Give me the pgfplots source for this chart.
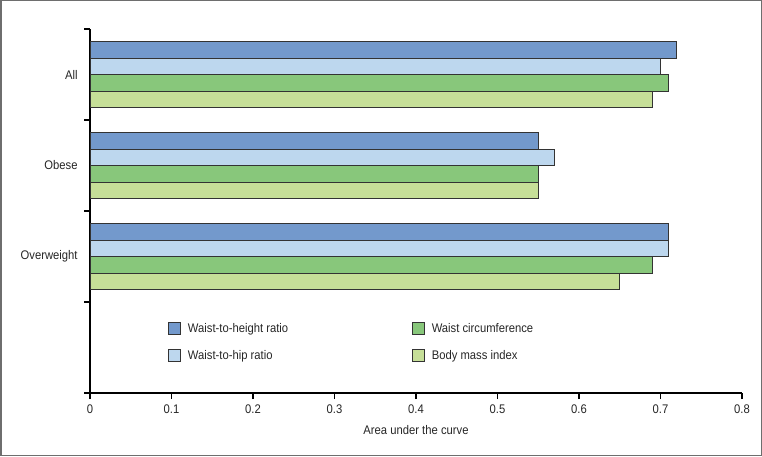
\documentclass[border=0pt]{standalone}
\usepackage{pgfplots}
\pgfplotsset{compat=1.18}
\usepackage{fontspec}
\setmainfont{Liberation Sans}[FakeStretch=0.9]
\definecolor{cWHtR}{HTML}{7399CC}
\definecolor{cWHR}{HTML}{BDD7EE}
\definecolor{cWC}{HTML}{88C77B}
\definecolor{cBMI}{HTML}{C6DF98}
\definecolor{edge}{HTML}{333333}
\definecolor{frame}{HTML}{6E6E6E}
\begin{document}
\fontsize{12.5}{15}\selectfont
\begin{tikzpicture}
\useasboundingbox (0pt,0pt) rectangle (762pt,456pt);
\draw[frame, line width=1.5pt] (0.75pt,0.75pt) rectangle (761.25pt,455.25pt);
\begin{axis}[
  at={(90pt,63pt)}, anchor=south west,
  scale only axis, width=652pt, height=364pt,
  xmin=0, xmax=0.8, ymin=-0.5, ymax=3.5,
  xbar, bar width=0.1813,
  axis lines=left,
  axis line style={-, line width=1.2pt},
  every tick/.style={black, line width=1.2pt},
  tick align=outside,
  major tick length=6pt,
  xtick={0,0.1,0.2,0.3,0.4,0.5,0.6,0.7,0.8},
  xticklabels={0,0.1,0.2,0.3,0.4,0.5,0.6,0.7,0.8},
  ytick={-0.5,0.5,1.5,2.5,3.5},
  yticklabels={},
  extra y ticks={1,2,3},
  extra y tick labels={Overweight,Obese,All},
  extra y tick style={major tick length=0pt, yticklabel style={xshift=-8pt}},
  /pgf/number format/assume math mode=true,
  tick label style={font=\fontsize{12.5}{15}\selectfont, text=black!85},
  xticklabel style={yshift=-1pt},
  xlabel={Area under the curve},
  xlabel style={font=\fontsize{12.5}{15}\selectfont, text=black!85, yshift=-4pt},
  legend image code/.code={\draw[#1, line width=0.8pt, draw=edge] (0pt,-6pt) rectangle (12pt,6pt);},
  legend columns=2, transpose legend,
  legend style={draw=none, fill=none, at={(0.1196,0.198)}, anchor=north west,
    inner sep=0pt, font=\fontsize{12.5}{15}\selectfont,
    row sep=12pt,
    nodes={text=black!85, inner xsep=7pt},
    /tikz/every odd column/.append style={column sep=0pt},
    /tikz/every even column/.append style={column sep=0pt}},
  legend cell align=left,
]
\addplot[fill=cWHtR, draw=edge, line width=0.8pt, bar shift=0.27195] coordinates {(0.72,3) (0.55,2) (0.71,1)};
\addlegendentry{\makebox[217pt][l]{Waist-to-height ratio}}
\addplot[fill=cWHR, draw=edge, line width=0.8pt, bar shift=0.09065] coordinates {(0.70,3) (0.57,2) (0.71,1)};
\addlegendentry{\makebox[217pt][l]{Waist-to-hip ratio}}
\addplot[fill=cWC, draw=edge, line width=0.8pt, bar shift=-0.09065] coordinates {(0.71,3) (0.55,2) (0.69,1)};
\addlegendentry{Waist circumference}
\addplot[fill=cBMI, draw=edge, line width=0.8pt, bar shift=-0.27195] coordinates {(0.69,3) (0.55,2) (0.65,1)};
\addlegendentry{Body mass index}
\end{axis}
\end{tikzpicture}
\end{document}
